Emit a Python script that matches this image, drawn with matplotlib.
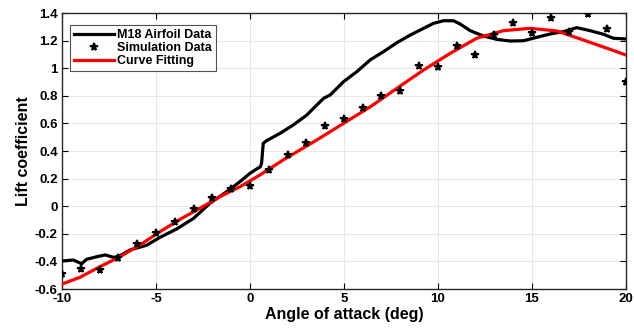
import matplotlib
matplotlib.use("Agg")
import matplotlib.pyplot as plt

plt.rcParams["font.family"] = ["Liberation Sans", "DejaVu Sans"]
plt.rcParams["font.weight"] = "bold"

# M18 airfoil data
m18_aoa = [-10.0, -9.4, -8.95, -8.7, -8.15, -7.7, -7.27, -7.0, -6.38, -5.5, -4.79,
           -3.9, -3.0, -2.13, -1.24, -0.53, 0.0, 0.36, 0.55, 0.62, 0.71, 0.89, 1.6,
           2.3, 3.02, 3.56, 3.92, 4.27, 4.98, 5.69, 6.40, 7.11, 7.82, 8.53, 9.24,
           9.77, 10.3, 10.83, 11.19, 11.72, 12.43, 13.14, 13.85, 14.56, 15.27,
           15.97, 16.69, 17.39, 18.1, 18.81, 19.34, 20.0]
m18_cl = [-0.397, -0.39, -0.417, -0.385, -0.366, -0.353, -0.370, -0.365, -0.317,
          -0.283, -0.226, -0.165, -0.088, 0.021, 0.105, 0.178, 0.238, 0.27, 0.285,
          0.31, 0.456, 0.475, 0.528, 0.588, 0.66, 0.733, 0.782, 0.806, 0.902,
          0.975, 1.06, 1.12, 1.185, 1.24, 1.289, 1.325, 1.344, 1.344, 1.32, 1.272,
          1.233, 1.209, 1.197, 1.199, 1.224, 1.248, 1.265, 1.294, 1.272, 1.246,
          1.217, 1.212]

# simulation points
sim_aoa = list(range(-10, 21))
sim_cl = [-0.49, -0.455, -0.46, -0.378, -0.276, -0.192, -0.117, -0.023, 0.057,
          0.125, 0.149, 0.262, 0.371, 0.456, 0.58, 0.634, 0.71, 0.80, 0.835,
          1.016, 1.009, 1.163, 1.096, 1.24, 1.325, 1.253, 1.366, 1.265, 1.393,
          1.286, 0.90]

# curve fitting (red)
fit_aoa = [-10.0, -9.04, -7.98, -6.91, -5.85, -4.79, -3.72, -2.66, -1.6, -0.53,
           0.53, 1.77, 3.56, 4.98, 6.40, 7.82, 9.24, 10.66, 12.07, 13.49, 14.91,
           16.33, 17.75, 19.16, 20.0]
fit_cl = [-0.564, -0.515, -0.438, -0.366, -0.281, -0.185, -0.095, -0.015, 0.069,
          0.141, 0.226, 0.335, 0.48, 0.60, 0.72, 0.854, 0.987, 1.108, 1.217,
          1.272, 1.289, 1.27, 1.204, 1.137, 1.096]

fig = plt.figure(figsize=(6.34, 3.30), dpi=100)
ax = fig.add_axes([0.0978, 0.1242, 0.8892, 0.8364])

ax.plot(m18_aoa, m18_cl, color="black", lw=2.3, label="M18 Airfoil Data", zorder=3)
ax.plot(sim_aoa, sim_cl, ls="none", marker="*", ms=5.5, mew=1.4, color="black",
        label="Simulation Data", zorder=4)
ax.plot(fit_aoa, fit_cl, color="red", lw=2.3, label="Curve Fitting", zorder=3)

ax.set_xlim(-10, 20)
ax.set_ylim(-0.6, 1.4)
xt = [-10, -5, 0, 5, 10, 15, 20]
yt = [-0.6, -0.4, -0.2, 0, 0.2, 0.4, 0.6, 0.8, 1, 1.2, 1.4]
ax.set_xticks(xt)
ax.set_xticklabels(["%g" % v for v in xt])
ax.set_yticks(yt)
ax.set_yticklabels(["%g" % v for v in yt])
ax.tick_params(direction="in", top=True, right=True, labelsize=9.5, length=4,
               width=0.8, pad=3)
ax.grid(True, color="#e3e3e3", lw=0.6)
ax.set_axisbelow(True)
for s in ax.spines.values():
    s.set_linewidth(1.0)
    s.set_color("#262626")

ax.set_xlabel("Angle of attack (deg)", fontsize=11.5, fontweight="bold", labelpad=1)
ax.set_ylabel("Lift coefficient", fontsize=11.5, fontweight="bold", labelpad=3)

leg = ax.legend(loc="upper left", bbox_to_anchor=(0.015, 0.955), fontsize=9,
                frameon=True, fancybox=False, edgecolor="#262626",
                handlelength=3.2, handletextpad=0.25, borderpad=0.3,
                labelspacing=0.08, borderaxespad=0.0)
leg.get_frame().set_linewidth(0.8)

fig.savefig("out.png", dpi=100)
